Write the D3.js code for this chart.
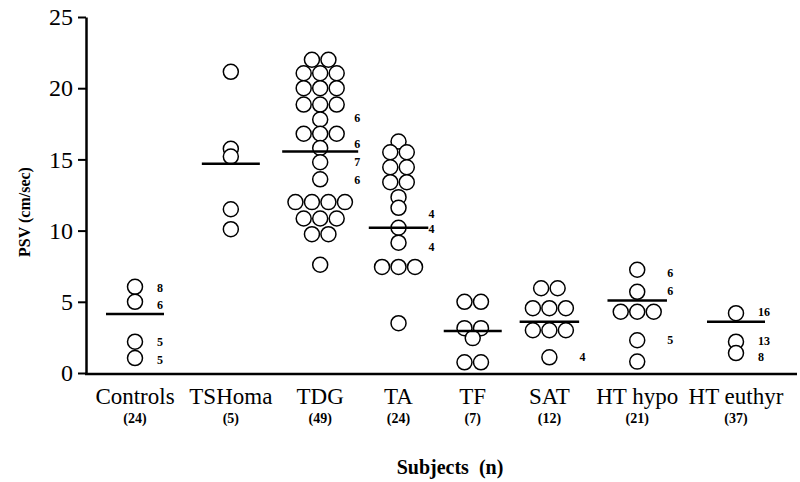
<!DOCTYPE html>
<html>
<head>
<meta charset="utf-8">
<title>PSV by subject group</title>
<style>
  body { margin: 0; background: #fff; }
  svg { display: block; font-family: "Liberation Serif", "Times New Roman", serif; }
  .dot { fill: #fff; stroke: #000; stroke-width: 1.5px; }
  .mean { stroke: #000; stroke-width: 2.5px; }
  .note { font-size: 12px; font-weight: 700; }
  .cat { font-size: 23px; }
  .n { font-size: 14px; font-weight: 700; }
</style>
</head>
<body>
<div id="chart"></div>
<script src="https://cdnjs.cloudflare.com/ajax/libs/d3/7.8.5/d3.min.js"></script>
<script>
// groups along the x axis and the n under each label
const groups = ["Controls", "TSHoma", "TDG", "TA", "TF", "SAT", "HT hypo", "HT euthyr"];
const counts = ["(24)", "(5)", "(49)", "(24)", "(7)", "(12)", "(21)", "(37)"];

// PSV values (cm/sec), one circle each
const controls = [6.05, 5.0, 2.2, 1.05];
const tshoma = [21.15, 15.75, 15.2, 11.5, 10.1];
const tdg = [22.0, 22.0, 21.05, 21.05, 21.05, 20.0, 20.0, 20.0, 18.85, 18.85, 18.85,
             17.8, 16.8, 16.8, 16.8, 15.8, 14.8, 13.6, 12.0, 12.0, 12.0, 12.0,
             10.85, 10.85, 10.85, 9.75, 9.75, 7.6];
const ta = [16.25, 15.5, 15.5, 14.45, 14.45, 13.4, 13.4, 12.35, 11.6, 10.2, 9.15,
            7.45, 7.45, 7.45, 3.5];
const tf = [5.0, 5.0, 3.15, 3.15, 2.45, 0.75, 0.75];
const sat = [5.95, 5.95, 4.55, 4.55, 4.55, 3.0, 3.0, 3.0, 1.1];
const hthypo = [7.25, 5.7, 4.3, 4.3, 4.3, 2.3, 0.8];
const hteuthyr = [4.2, 2.2, 1.4];
const series = [controls, tshoma, tdg, ta, tf, sat, hthypo, hteuthyr];

// group means (horizontal bars)
const means = [4.15, 14.7, 15.55, 10.2, 2.95, 3.6, 5.1, 3.6];

// small numbers written beside the circles
const notes = [
  {g: "Controls", v: 6.0, t: "8"}, {g: "Controls", v: 4.8, t: "6"},
  {g: "Controls", v: 2.2, t: "5"}, {g: "Controls", v: 0.9, t: "5"},
  {g: "TDG", v: 17.9, t: "6"}, {g: "TDG", v: 16.1, t: "6"},
  {g: "TDG", v: 14.8, t: "7"}, {g: "TDG", v: 13.55, t: "6"},
  {g: "TA", v: 11.2, t: "4"}, {g: "TA", v: 10.1, t: "4"}, {g: "TA", v: 8.85, t: "4"},
  {g: "SAT", v: 1.1, t: "4"},
  {g: "HT hypo", v: 7.0, t: "6"}, {g: "HT hypo", v: 5.75, t: "6"}, {g: "HT hypo", v: 2.3, t: "5"},
  {g: "HT euthyr", v: 4.3, t: "16"}, {g: "HT euthyr", v: 2.25, t: "13"}, {g: "HT euthyr", v: 1.15, t: "8"}
];

const yTicks = [0, 5, 10, 15, 20, 25];

const width = 800, height = 482;
const plotLeft = 86, plotTop = 17, plotBottom = 373, plotRight = 797;
const firstX = 135, lastX = 736;
const r = 7.5, step = 16.5;

const svg = d3.select("#chart").append("svg")
  .attr("width", width).attr("height", height);

const y = d3.scaleLinear().domain([0, 25]).range([plotBottom, plotTop]);

// groups are spaced by the width of their labels (wider names get more room)
const probe = svg.append("g");
const labelW = groups.map(g => {
  const t = probe.append("text").attr("class", "cat").text(g);
  return t.node().getComputedTextLength();
});
probe.remove();
const cum = [0];
for (let i = 1; i < groups.length; i++) {
  cum.push(cum[i - 1] + 62 + 0.4 * (labelW[i - 1] + labelW[i]) / 2);
}
const spread = d3.scaleLinear().domain([0, cum[cum.length - 1]]).range([firstX, lastX]);
const x = d3.scaleOrdinal().domain(groups).range(cum.map(spread));

// y axis
const yAxis = svg.append("g")
  .attr("transform", `translate(${plotLeft},0)`)
  .call(d3.axisLeft(y).tickValues(yTicks).tickSize(8).tickSizeOuter(0).tickPadding(5))
  .attr("font-family", "Liberation Serif, serif")
  .attr("font-size", 24);
yAxis.select(".domain").attr("stroke-width", 2.5);
yAxis.selectAll(".tick line").attr("stroke-width", 2);
yAxis.selectAll(".tick text").attr("fill", "#000");

// x axis baseline
svg.append("line")
  .attr("x1", plotLeft - 1).attr("x2", plotRight)
  .attr("y1", y(0) + 1).attr("y2", y(0) + 1)
  .attr("stroke", "#000").attr("stroke-width", 2.5);

// y title
svg.append("text")
  .attr("transform", `translate(30,${(plotTop + plotBottom) / 2 + 17}) rotate(-90)`)
  .attr("text-anchor", "middle")
  .style("font-size", "16px").style("font-weight", 700)
  .text("PSV (cm/sec)");

// circles: equal values sit side by side, centred on the group
series.forEach((vals, gi) => {
  const g = groups[gi];
  const rows = d3.groups(vals, v => v);
  const maxRow = d3.max(rows, d => d[1].length);
  const cx = x(g);

  const pts = [];
  rows.forEach(([v, arr]) => {
    arr.forEach((_, i) => pts.push({v, dx: (i - (arr.length - 1) / 2) * step}));
  });

  svg.append("g").selectAll("circle")
    .data(pts)
    .join("circle")
    .attr("class", "dot")
    .attr("cx", d => cx + d.dx)
    .attr("cy", d => y(d.v))
    .attr("r", r);

  const half = Math.max(29, maxRow * step / 2 + 5);
  svg.append("line")
    .attr("class", "mean")
    .attr("x1", cx - half).attr("x2", cx + half)
    .attr("y1", y(means[gi])).attr("y2", y(means[gi]));

  // category label and n
  svg.append("text")
    .attr("class", "cat")
    .attr("x", cx).attr("y", 404)
    .attr("text-anchor", "middle")
    .text(g);
  svg.append("text")
    .attr("class", "n")
    .attr("x", cx).attr("y", 423)
    .attr("text-anchor", "middle")
    .text(counts[gi]);
});

// beside-circle numbers
const widest = {};
series.forEach((vals, gi) => {
  widest[groups[gi]] = d3.max(d3.groups(vals, v => v), d => d[1].length);
});
svg.append("g").selectAll("text")
  .data(notes)
  .join("text")
  .attr("class", "note")
  .attr("x", d => x(d.g) + 22 + 4 * (widest[d.g] - 1))
  .attr("y", d => y(d.v))
  .attr("dominant-baseline", "central")
  .text(d => d.t);

// x title
svg.append("text")
  .attr("x", 450).attr("y", 474)
  .attr("text-anchor", "middle")
  .style("font-size", "20px").style("font-weight", 700)
  .attr("xml:space", "preserve")
  .text("Subjects  (n)");
</script>
</body>
</html>
